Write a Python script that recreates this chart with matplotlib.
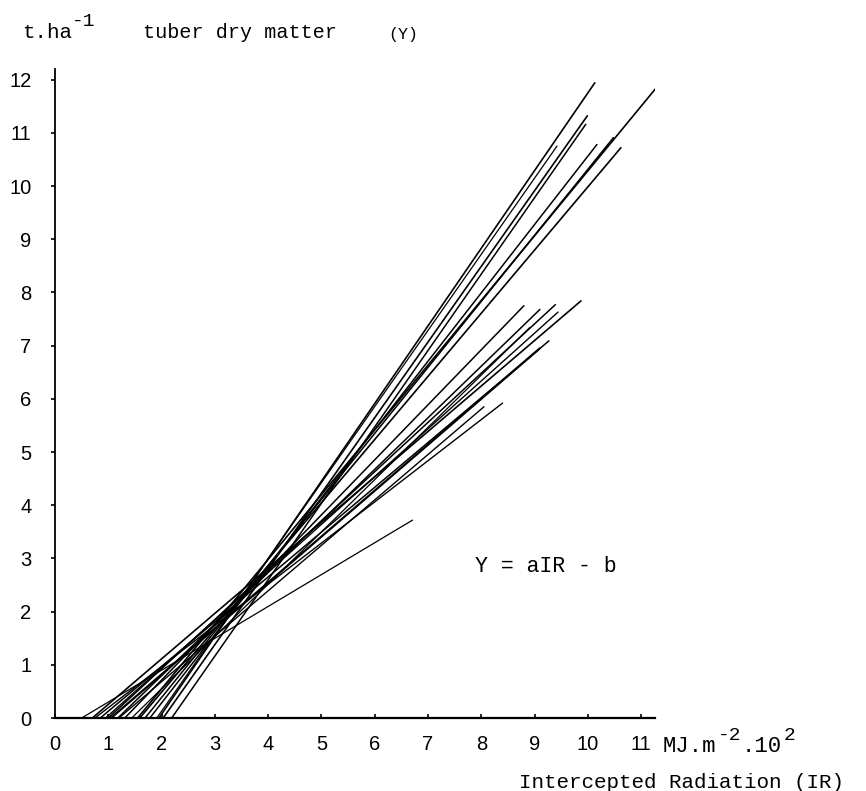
import matplotlib
matplotlib.use("Agg")
import matplotlib.pyplot as plt

# x-intercept (b/a), end of line (IR, Y)
ir_start = [1.95, 1.55, 2.03, 2.19, 1.78, 1.69, 1.59, 1.91,
            1.31, 1.18, 1.00, 0.95, 0.70, 1.44, 0.85, 1.05, 0.75, 1.20, 0.50]
ir_end = [10.13, 11.41, 9.99, 9.96, 10.17, 10.48, 10.62, 9.42,
          8.80, 9.10, 9.39, 9.44, 9.87, 8.91, 9.27, 9.10, 8.40, 8.05, 6.71]
y_end = [11.94, 12.00, 11.32, 11.16, 10.78, 10.91, 10.72, 10.75,
         7.75, 7.68, 7.77, 7.63, 7.84, 7.34, 7.09, 6.95, 5.92, 5.85, 3.72]
line_w = [1.2, 1.2, 1.2, 1.1, 1.1, 1.1, 1.2, 0.9,
          1.1, 1.1, 1.1, 1.0, 1.2, 0.9, 1.1, 1.6, 1.0, 1.0, 0.9]

x_ticks = list(range(0, 12))
y_ticks = list(range(0, 13))

W, H = 866, 791
fig = plt.figure(figsize=(W / 100, H / 100), dpi=100)
ax = fig.add_axes([55 / W, 73 / H, 600 / W, 649 / H])

for xs, xe, ye, lw in zip(ir_start, ir_end, y_end, line_w):
    ax.plot([xs, xe], [0, ye], color='black', lw=lw, solid_capstyle='round')

ax.set_xlim(0, 11.26)
ax.set_ylim(0, 12.2)
ax.set_xticks(x_ticks)
ax.set_yticks(y_ticks)
for s in ['top', 'right']:
    ax.spines[s].set_visible(False)
ax.spines['left'].set_linewidth(1.3)
ax.spines['bottom'].set_linewidth(1.6)
ax.tick_params(axis='y', direction='out', length=3, width=1.2, pad=14,
               labelsize=14.5)
ax.tick_params(axis='x', direction='in', length=3, width=1.2, pad=12,
               labelsize=14.5)
for lab in ax.get_xticklabels() + ax.get_yticklabels():
    lab.set_fontfamily('Liberation Sans')

mono = 'Liberation Mono'


def ftxt(px, py, s, size, **kw):
    fig.text(px / W, 1 - py / H, s, fontfamily=mono, fontsize=size,
             va='center', ha='left', **kw)


ftxt(22, 33, 't.ha', 15)
ftxt(72, 22, '-1', 14)
ftxt(143, 33, 'tuber dry matter', 14.5)
ftxt(388, 35, '(Y)', 12)
ftxt(663, 746, 'MJ.m', 16)
ftxt(718, 736, '-2', 14)
ftxt(742, 746, '.10', 16)
ftxt(784, 736, '2', 14)
ftxt(519, 783, 'Intercepted Radiation (IR)', 15)
ax.text(7.88, 2.84, 'Y = aIR - b', fontfamily=mono, fontsize=15.5,
        va='center', ha='left')

fig.savefig('out.png', dpi=100)
